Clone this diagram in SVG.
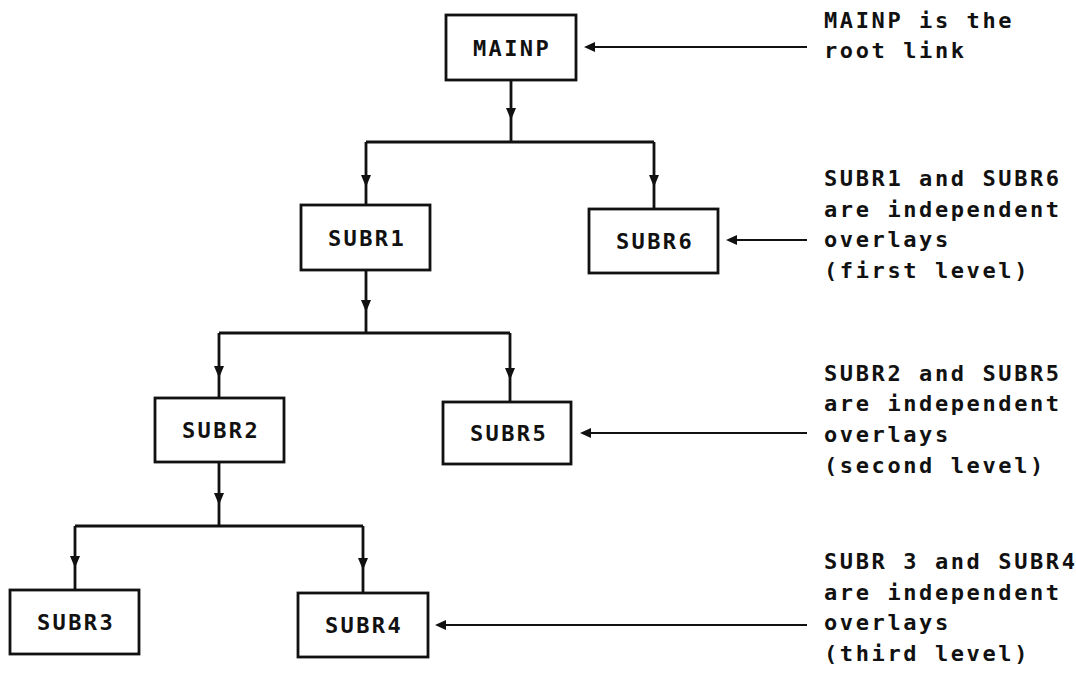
<svg xmlns="http://www.w3.org/2000/svg" width="1076" height="673" viewBox="0 0 1076 673">
<defs>
<style>
.box{fill:#fff;stroke:#111;stroke-width:2.8}
.ln{fill:none;stroke:#111;stroke-width:2.8}
.thin{fill:none;stroke:#111;stroke-width:2}
.hd{fill:#111;stroke:none}
.lbl{font-family:"DejaVu Sans Mono","Liberation Mono",monospace;font-size:22px;font-weight:bold;fill:#111;letter-spacing:2.4px}
.note{font-family:"DejaVu Sans Mono","Liberation Mono",monospace;font-size:22px;font-weight:bold;fill:#111;letter-spacing:2.6px}
</style>
</defs>
<rect width="1076" height="673" fill="#fff"/>
<g id="connectors">
<path class="ln" d="M511,80 V142 M366,142 H654 M366,142 V205 M654,142 V209"/>
<path class="hd" d="M506,108 H516 L511,120 Z M361,175 H371 L366,187 Z M649,175 H659 L654,187 Z"/>
<path class="ln" d="M366,270 V333 M219,333 H510 M219,333 V398 M510,333 V402"/>
<path class="hd" d="M361,300 H371 L366,312 Z M214,366 H224 L219,378 Z M505,368 H515 L510,380 Z"/>
<path class="ln" d="M219,462 V526 M75,526 H363 M75,526 V590 M363,526 V593"/>
<path class="hd" d="M214,493 H224 L219,505 Z M70,556 H80 L75,568 Z M358,558 H368 L363,570 Z"/>
<path class="thin" d="M807,47 H592 M807,240 H734 M807,433 H588 M807,625 H443"/>
<path class="hd" d="M584,47 L595,42 L595,52 Z M726,240 L737,235 L737,245 Z M580,433 L591,428 L591,438 Z M435,625 L446,620 L446,630 Z"/>
</g>
<g id="MAINP"><rect class="box" x="446" y="15" width="130" height="65"/><text class="lbl" x="512" y="56" text-anchor="middle">MAINP</text></g>
<g id="SUBR1"><rect class="box" x="301" y="205" width="129" height="65"/><text class="lbl" x="367" y="246" text-anchor="middle">SUBR1</text></g>
<g id="SUBR6"><rect class="box" x="589" y="209" width="129" height="64"/><text class="lbl" x="655" y="249" text-anchor="middle">SUBR6</text></g>
<g id="SUBR2"><rect class="box" x="155" y="398" width="129" height="64"/><text class="lbl" x="221" y="438" text-anchor="middle">SUBR2</text></g>
<g id="SUBR5"><rect class="box" x="443" y="402" width="128" height="62"/><text class="lbl" x="509" y="441" text-anchor="middle">SUBR5</text></g>
<g id="SUBR3"><rect class="box" x="10" y="590" width="129" height="64"/><text class="lbl" x="76" y="630" text-anchor="middle">SUBR3</text></g>
<g id="SUBR4"><rect class="box" x="298" y="593" width="130" height="64"/><text class="lbl" x="364" y="633" text-anchor="middle">SUBR4</text></g>
<g id="notes">
<text class="note" x="824" y="28">MAINP is the</text>
<text class="note" x="824" y="58">root link</text>
<text class="note" x="824" y="186">SUBR1 and SUBR6</text>
<text class="note" x="824" y="217">are independent</text>
<text class="note" x="824" y="247">overlays</text>
<text class="note" x="824" y="278">(first level)</text>
<text class="note" x="824" y="381">SUBR2 and SUBR5</text>
<text class="note" x="824" y="411">are independent</text>
<text class="note" x="824" y="442">overlays</text>
<text class="note" x="824" y="473">(second level)</text>
<text class="note" x="824" y="569">SUBR 3 and SUBR4</text>
<text class="note" x="824" y="600">are independent</text>
<text class="note" x="824" y="630">overlays</text>
<text class="note" x="824" y="661">(third level)</text>
</g>
</svg>
